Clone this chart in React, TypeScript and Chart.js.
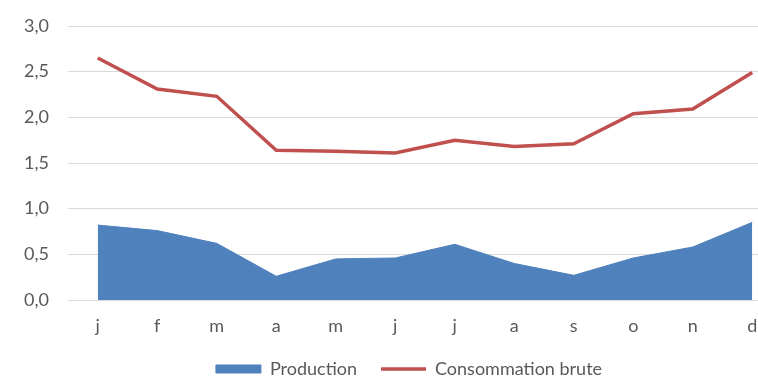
import { useEffect, useRef } from "react";
import { Chart, registerables } from "chart.js";

Chart.register(...registerables);

// Monthly values
const months = ["j", "f", "m", "a", "m", "j", "j", "a", "s", "o", "n", "d"];
const production = [0.82, 0.76, 0.62, 0.26, 0.45, 0.46, 0.61, 0.4, 0.27, 0.46, 0.58, 0.85];
const consommationBrute = [2.65, 2.31, 2.23, 1.64, 1.63, 1.61, 1.75, 1.68, 1.71, 2.04, 2.09, 2.49];
const yTickLabels = ["0,0", "0,5", "1,0", "1,5", "2,0", "2,5", "3,0"];

const BLUE = "#4f81bd";
const RED = "#c0504d";
const TEXT = "#595959";
const GRID = "#d9d9d9";
const FONT = "Lato, 'Open Sans', sans-serif";

export default function App() {
  const canvasRef = useRef<HTMLCanvasElement | null>(null);

  useEffect(() => {
    const canvas = canvasRef.current;
    if (!canvas) return;
    const chart = new Chart(canvas, {
      type: "line",
      data: {
        labels: months,
        datasets: [
          {
            label: "Production",
            data: production,
            fill: "origin",
            backgroundColor: BLUE,
            borderColor: BLUE,
            borderWidth: 1,
            pointRadius: 0,
            pointStyle: "rect",
            tension: 0,
          },
          {
            label: "Consommation brute",
            data: consommationBrute,
            fill: false,
            backgroundColor: RED,
            borderColor: RED,
            borderWidth: 3.5,
            pointRadius: 0,
            pointStyle: "line",
            tension: 0,
          },
        ],
      },
      options: {
        responsive: false,
        animation: false,
        devicePixelRatio: 1,
        layout: { padding: { left: 0, right: 0, top: 26, bottom: 0 } },
        plugins: {
          tooltip: { enabled: false },
          legend: {
            position: "bottom",
            labels: {
              usePointStyle: true,
              pointStyleWidth: 45,
              boxHeight: 8,
              padding: 24,
              color: TEXT,
              font: { family: FONT, size: 18 },
            },
          },
        },
        scales: {
          x: {
            offset: true,
            grid: { display: false, drawTicks: false },
            border: { display: false },
            ticks: {
              color: TEXT,
              font: { family: FONT, size: 18 },
              padding: 15,
              maxRotation: 0,
              autoSkip: false,
            },
            afterFit: (scale: any) => {
              scale.height = 36;
            },
          },
          y: {
            min: 0,
            max: 3,
            grid: { color: GRID, lineWidth: 1, drawTicks: false },
            border: { display: false },
            ticks: {
              stepSize: 0.5,
              color: TEXT,
              font: { family: FONT, size: 18 },
              padding: 19,
              callback: (_v: any, i: number) => yTickLabels[i],
            },
            afterFit: (scale: any) => {
              scale.width = 68;
              scale.paddingTop = 0;
              scale.paddingBottom = 0;
            },
          },
          // empty right-hand margin axis so the plot runs past the right edge
          y2: {
            position: "right",
            min: 0,
            max: 3,
            grid: { display: false, drawTicks: false },
            border: { display: false },
            ticks: { display: false },
            afterFit: (scale: any) => {
              scale.width = 36;
            },
          },
        },
      },
    });
    return () => chart.destroy();
  }, []);

  return (
    <div
      style={{
        position: "absolute",
        left: 0,
        top: 0,
        width: 758,
        height: 378,
        overflow: "hidden",
        background: "#ffffff",
      }}
    >
      <canvas ref={canvasRef} width={818} height={388} style={{ display: "block" }} />
    </div>
  );
}
